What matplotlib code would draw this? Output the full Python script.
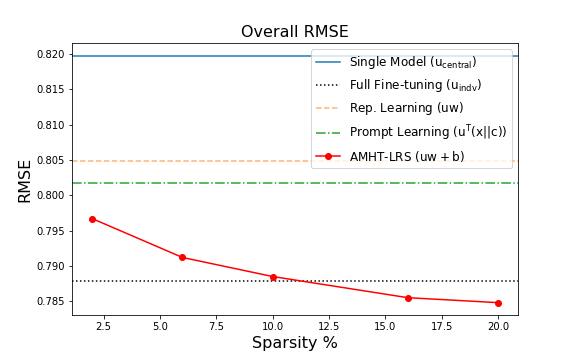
import matplotlib
matplotlib.use('Agg')
from matplotlib import pyplot as plt

# sparsity levels and RMSE of the AMHT-LRS model
sparsity = [2, 6, 10, 16, 20]
amht_rmse = [0.7967, 0.7912, 0.7885, 0.7855, 0.7848]

# baseline RMSE values (constant over sparsity)
single_model = 0.8198
full_finetune = 0.7879
rep_learning = 0.8048
prompt_learning = 0.8018

fig = plt.figure(figsize=(8, 5), dpi=72)
ax = fig.add_subplot(111)
fig.subplots_adjust(bottom=0.125)

ax.axhline(single_model, color='C0', linestyle='-', label=r'Single Model ($\mathrm{u_{central}}$)')
ax.axhline(full_finetune, color='k', linestyle=':', label=r'Full Fine-tuning ($\mathrm{u_{indv}}$)')
ax.axhline(rep_learning, color='C1', linestyle='--', alpha=0.6, label=r'Rep. Learning ($\mathrm{uw}$)')
ax.axhline(prompt_learning, color='C2', linestyle='-.', label=r'Prompt Learning ($\mathrm{u^T(x||c)}$)')
ax.plot(sparsity, amht_rmse, color='r', marker='o', label=r'AMHT-LRS ($\mathrm{uw + b}$)')

ax.set_title('Overall RMSE', fontsize=16)
ax.set_xlabel('Sparsity %', fontsize=16)
ax.set_ylabel('RMSE', fontsize=16)
ax.legend(loc='upper right', fontsize=12)

fig.savefig('out.png', dpi=72)
